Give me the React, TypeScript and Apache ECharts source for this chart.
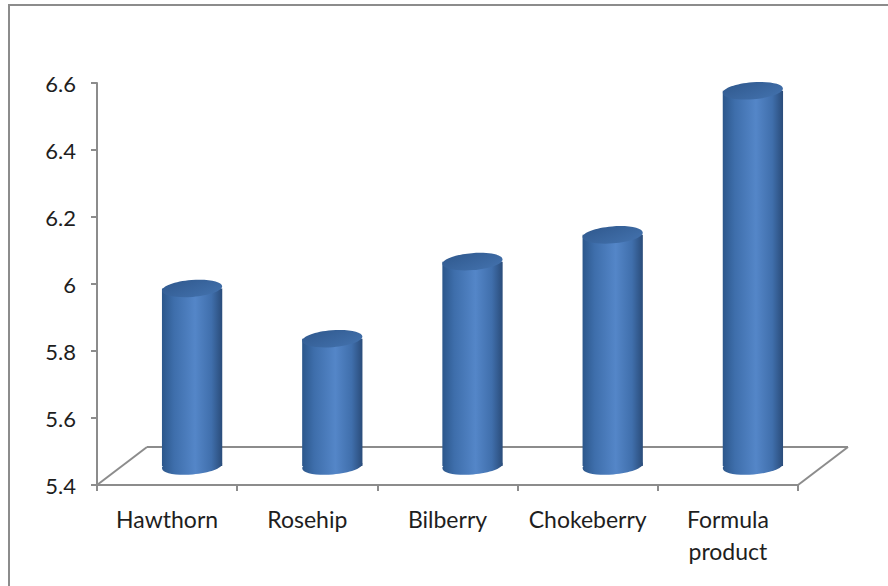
import React, { useEffect, useRef } from "react";
import * as echarts from "echarts";

const categories = ["Hawthorn", "Rosehip", "Bilberry", "Chokeberry", "Formula\nproduct"];
const values = [5.93, 5.78, 6.01, 6.09, 6.52];
const yMin = 5.4;
const yMax = 6.6;
const yStep = 0.2;

const DEPTH_X = 50;
const DEPTH_Y = 38;
const FONT = "Lato, 'Open Sans', sans-serif";

export default function App() {
  const ref = useRef<HTMLDivElement>(null);
  useEffect(() => {
    document.body.style.margin = "0";
    const chart = echarts.init(ref.current!, null, { renderer: "svg" });
    const sideGrad = new echarts.graphic.LinearGradient(0, 0, 1, 0, [
      { offset: 0, color: "#2c578b" },
      { offset: 0.2, color: "#3e6eab" },
      { offset: 0.55, color: "#5486c8" },
      { offset: 0.82, color: "#406fac" },
      { offset: 1, color: "#2a4c7a" },
    ]);
    const topGrad = new echarts.graphic.LinearGradient(0, 0, 1, 1, [
      { offset: 0, color: "#30598e" },
      { offset: 1, color: "#4372ae" },
    ]);
    chart.setOption({
      animation: false,
      grid: { left: 97, top: 83, width: 701, height: 402 },
      graphic: [
        {
          type: "rect",
          shape: { x: 9, y: 5, width: 900, height: 600 },
          style: { fill: "none", stroke: "#8c8c8c", lineWidth: 2 },
          silent: true,
        },
      ],
      xAxis: {
        type: "category",
        data: categories,
        axisLine: { show: true, lineStyle: { color: "#8c8c8c", width: 2 } },
        axisTick: { show: true, length: 6, lineStyle: { color: "#8c8c8c", width: 2 } },
        axisLabel: {
          interval: 0,
          color: "#1e1e1e",
          fontFamily: FONT,
          fontSize: 23,
          lineHeight: 32,
          margin: 18,
        },
      },
      yAxis: {
        type: "value",
        min: yMin,
        max: yMax,
        interval: yStep,
        splitLine: { show: false },
        axisLine: { show: true, lineStyle: { color: "#8c8c8c", width: 2 } },
        axisTick: { show: true, length: 6, lineStyle: { color: "#8c8c8c", width: 2 } },
        axisLabel: {
          color: "#1e1e1e",
          fontFamily: FONT,
          fontSize: 22,
          margin: 21,
          formatter: (v: number) => String(Math.round(v * 10) / 10),
        },
      },
      series: [
        {
          type: "custom",
          clip: false,
          data: [[0, yMin]],
          renderItem: (params: any, api: any) => {
            const bw = api.size([1, 0])[0];
            const c0 = api.coord([0, yMin]);
            const cN = api.coord([categories.length - 1, yMin]);
            const l = c0[0] - bw / 2;
            const r = cN[0] + bw / 2;
            const y = c0[1];
            const style = { stroke: "#8c8c8c", lineWidth: 2, fill: "none" };
            return {
              type: "group",
              children: [
                { type: "line", shape: { x1: l + DEPTH_X, y1: y - DEPTH_Y, x2: r + DEPTH_X, y2: y - DEPTH_Y }, style },
                { type: "line", shape: { x1: l, y1: y, x2: l + DEPTH_X, y2: y - DEPTH_Y }, style },
                { type: "line", shape: { x1: r, y1: y, x2: r + DEPTH_X, y2: y - DEPTH_Y }, style },
              ],
            };
          },
        },
        {
          type: "custom",
          clip: false,
          data: values.map((v, i) => [i, v]),
          renderItem: (params: any, api: any) => {
            const i = api.value(0);
            const v = api.value(1);
            const top = api.coord([i, v]);
            const base = api.coord([i, yMin]);
            const bw = api.size([1, 0])[0];
            const cx = top[0] + DEPTH_X / 2;
            const yTop = top[1] - DEPTH_Y / 2;
            const yBase = base[1] - DEPTH_Y / 2;
            const rx = bw * 0.215;
            const ry = 8.5;
            const rot = 0.08;
            return {
              type: "group",
              children: [
                {
                  type: "ellipse",
                  shape: { cx: 0, cy: 0, rx, ry },
                  x: cx,
                  y: yBase,
                  rotation: rot,
                  style: { fill: sideGrad },
                },
                {
                  type: "rect",
                  shape: { x: cx - rx, y: yTop, width: rx * 2, height: yBase - yTop },
                  style: { fill: sideGrad },
                },
                {
                  type: "ellipse",
                  shape: { cx: 0, cy: 0, rx, ry },
                  x: cx,
                  y: yTop,
                  rotation: rot,
                  style: { fill: topGrad },
                },
              ],
            };
          },
        },
      ],
    });
    return () => chart.dispose();
  }, []);
  return <div ref={ref} style={{ width: 888, height: 586 }} />;
}
